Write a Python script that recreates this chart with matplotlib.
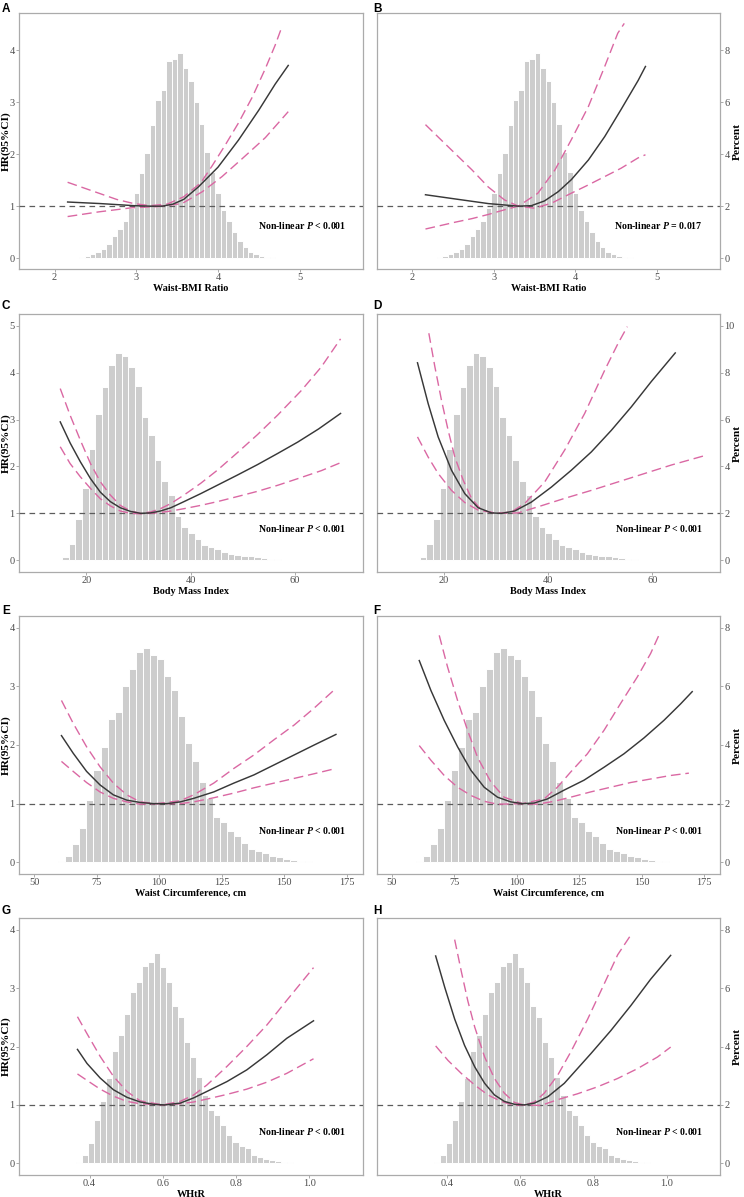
import numpy as np
import matplotlib
matplotlib.use("Agg")
import matplotlib.pyplot as plt

plt.rcParams['font.family'] = ['Liberation Serif', 'DejaVu Serif']
plt.rcParams['mathtext.fontset'] = 'custom'
plt.rcParams['mathtext.bfit'] = 'Liberation Serif:italic:bold'
plt.rcParams['mathtext.rm'] = 'Liberation Serif:bold'

# ---------------------------------------------------------------
#  Histograms (percent of participants per bin)
# ---------------------------------------------------------------
wbr_bin0, wbr_binw = 2.267, 0.0667
wbr_pct = [0.02, 0.04, 0.08, 0.14, 0.22, 0.34, 0.54, 0.86, 1.12, 1.44, 1.92,
           2.50, 3.26, 4.06, 5.12, 6.08, 6.48, 7.60, 7.68, 7.90, 7.34, 6.82,
           6.02, 5.18, 4.10, 3.32, 2.50, 1.86, 1.42, 1.00, 0.66, 0.42, 0.24,
           0.14, 0.08, 0.06, 0.04, 0.02]

bmi_bin0, bmi_binw = 14.7, 1.27
bmi_pct = [0.02, 0.14, 0.70, 1.74, 3.08, 4.76, 6.22, 7.40, 8.32, 8.84, 8.72,
           8.24, 7.44, 6.10, 5.36, 4.26, 3.38, 2.80, 1.88, 1.40, 1.16, 0.92,
           0.66, 0.58, 0.48, 0.34, 0.28, 0.22, 0.18, 0.18, 0.12, 0.08, 0.06,
           0.04, 0.02]

wc_bin0, wc_binw = 61.1, 2.81
wc_pct = [0.06, 0.22, 0.64, 1.18, 2.12, 3.14, 3.94, 4.90, 5.14, 6.00, 6.60,
          7.18, 7.30, 7.06, 6.94, 6.36, 5.88, 4.98, 4.08, 3.44, 2.74, 2.18,
          1.54, 1.36, 1.08, 0.88, 0.66, 0.44, 0.40, 0.30, 0.22, 0.17, 0.12,
          0.08, 0.06, 0.03, 0.02, 0.01]

whtr_bin0, whtr_binw = 0.371, 0.01643
whtr_pct = [0.04, 0.30, 0.70, 1.48, 2.14, 2.92, 3.86, 4.40, 5.10, 5.86, 6.22,
            6.76, 6.88, 7.20, 6.72, 6.22, 5.40, 5.00, 4.16, 3.64, 2.96, 2.34,
            1.82, 1.64, 1.32, 0.96, 0.74, 0.60, 0.52, 0.28, 0.22, 0.16, 0.10,
            0.08, 0.06, 0.04, 0.02, 0.01]

# ---------------------------------------------------------------
#  Restricted cubic spline HR curves (HR, lower / upper 95% CI)
# ---------------------------------------------------------------
# A: waist-BMI ratio, model 1
a_x = [2.16, 2.56, 2.97, 3.17, 3.32, 3.45, 3.58, 3.76, 4.0, 4.25, 4.5, 4.7, 4.86]
a_hr = [1.08, 1.05, 1.01, 1.0, 1.0, 1.04, 1.13, 1.37, 1.75, 2.27, 2.85, 3.35, 3.71]
a_up_x = [2.16, 2.36, 2.56, 2.76, 2.97, 3.17, 3.38, 3.58, 3.79, 3.93, 4.09,
          4.25, 4.42, 4.58, 4.70, 4.77]
a_up = [1.46, 1.35, 1.24, 1.13, 1.05, 1.01, 1.04, 1.18, 1.45, 1.78, 2.18,
        2.60, 3.10, 3.65, 4.10, 4.40]
a_lo_x = [2.16, 2.54, 2.95, 3.25, 3.56, 3.81, 4.05, 4.30, 4.58, 4.86]
a_lo = [0.80, 0.89, 0.97, 0.99, 1.05, 1.28, 1.57, 1.92, 2.32, 2.82]

# B: waist-BMI ratio, model 2
b_x = [2.16, 2.52, 2.93, 3.30, 3.46, 3.62, 3.79, 3.95, 4.16, 4.36, 4.56, 4.77, 4.86]
b_hr = [1.22, 1.14, 1.05, 1.0, 1.01, 1.1, 1.28, 1.51, 1.89, 2.34, 2.86, 3.42, 3.69]
b_up_x = [2.16, 2.31, 2.52, 2.73, 2.93, 3.13, 3.30, 3.54, 3.75, 3.95, 4.16,
          4.36, 4.52, 4.60]
b_up = [2.57, 2.34, 2.02, 1.70, 1.37, 1.12, 1.0, 1.25, 1.70, 2.28, 2.92,
        3.69, 4.33, 4.52]
b_lo_x = [2.16, 2.52, 2.73, 2.93, 3.13, 3.30, 3.50, 3.71, 3.95, 4.16, 4.36,
          4.56, 4.77, 4.86]
b_lo = [0.56, 0.69, 0.76, 0.84, 0.93, 1.0, 0.96, 1.06, 1.25, 1.41, 1.57,
        1.73, 1.93, 1.99]

# C: body mass index, model 1
c_x = [15.0, 16.9, 18.85, 20.8, 22.7, 24.6, 26.5, 28.5, 30.4, 32.3, 34.2,
       36.2, 38.7, 41.9, 45.1, 49.0, 52.8, 56.7, 60.5, 64.5, 68.7]
c_hr = [2.95, 2.5, 2.1, 1.74, 1.45, 1.25, 1.12, 1.04, 1.0, 1.01, 1.05,
        1.12, 1.25, 1.42, 1.6, 1.82, 2.04, 2.28, 2.52, 2.8, 3.13]
c_up_x = [15.0, 16.9, 18.85, 20.8, 22.7, 24.6, 26.5, 28.5, 30.4, 32.3, 34.2,
          36.2, 38.7, 41.9, 45.1, 49.0, 52.8, 56.7, 61.2, 65.0, 68.7]
c_up = [3.66, 3.09, 2.56, 2.06, 1.67, 1.39, 1.17, 1.05, 1.0, 1.03, 1.10,
        1.21, 1.39, 1.64, 1.92, 2.3, 2.68, 3.1, 3.62, 4.12, 4.72]
c_lo_x = [15.0, 16.9, 18.85, 20.8, 22.7, 24.6, 26.5, 28.5, 30.4, 32.3, 34.2,
          36.2, 38.7, 41.9, 45.1, 49.0, 52.8, 56.7, 60.5, 65.0, 68.7]
c_lo = [2.42, 2.06, 1.78, 1.53, 1.31, 1.16, 1.05, 1.0, 0.99, 1.0, 1.02,
        1.05, 1.1, 1.17, 1.25, 1.36, 1.47, 1.6, 1.74, 1.91, 2.08]

# D: body mass index, model 2
d_x = [14.88, 16.93, 18.85, 21.41, 23.97, 26.53, 29.09, 31.0, 33.56, 36.76,
       40.6, 44.44, 48.28, 52.12, 55.96, 59.8, 64.4]
d_hr = [4.21, 3.34, 2.63, 1.92, 1.42, 1.12, 1.01, 1.0, 1.05, 1.24,
        1.56, 1.92, 2.31, 2.77, 3.27, 3.81, 4.42]
d_up_x = [17.06, 18.21, 19.49, 20.77, 22.05, 23.65, 25.25, 27.17, 30.04,
          32.92, 35.48, 39.32, 43.16, 47.0, 50.84, 53.4, 55.19]
d_up = [4.84, 4.13, 3.41, 2.77, 2.2, 1.71, 1.32, 1.07, 1.0,
        1.03, 1.21, 1.67, 2.35, 3.13, 4.05, 4.62, 4.98]
d_lo_x = [14.88, 16.93, 18.85, 21.41, 23.97, 26.53, 30.04, 34.2, 38.04,
          43.16, 48.28, 53.4, 58.52, 63.64, 70.35]
d_lo = [2.63, 2.2, 1.85, 1.49, 1.23, 1.07, 1.0, 1.01, 1.14,
        1.32, 1.49, 1.67, 1.85, 2.03, 2.24]

# E: waist circumference, model 1
e_x = [60.96, 65.64, 70.99, 76.34, 81.68, 87.03, 92.38, 97.73, 103.07, 108.42,
       113.77, 121.79, 129.81, 137.83, 145.86, 153.88, 161.9, 170.59]
e_hr = [2.16, 1.86, 1.55, 1.32, 1.15, 1.06, 1.02, 1.0, 1.0, 1.03,
        1.09, 1.2, 1.35, 1.49, 1.66, 1.83, 2.0, 2.18]
e_up_x = [60.96, 65.64, 70.99, 76.34, 81.68, 87.03, 92.38, 99.06, 108.42,
          113.77, 121.79, 129.81, 137.83, 145.86, 153.88, 161.9, 169.92]
e_up = [2.76, 2.37, 1.97, 1.63, 1.35, 1.15, 1.03, 1.0, 1.05,
        1.15, 1.35, 1.6, 1.83, 2.09, 2.34, 2.63, 2.94]
e_lo_x = [60.96, 65.64, 70.99, 76.34, 81.68, 87.03, 92.38, 100.4, 108.42,
          113.77, 121.79, 129.81, 137.83, 145.86, 153.88, 161.9, 170.59]
e_lo = [1.72, 1.55, 1.36, 1.2, 1.09, 1.03, 0.99, 1.0, 1.0,
        1.03, 1.1, 1.18, 1.27, 1.35, 1.43, 1.51, 1.6]

# F: waist circumference, model 2
f_x = [60.93, 65.6, 70.93, 76.27, 81.6, 86.93, 92.27, 97.6, 102.27, 106.93,
       112.27, 118.93, 126.93, 134.93, 142.93, 150.93, 158.93, 165.6, 170.27]
f_hr = [3.44, 2.93, 2.42, 1.97, 1.57, 1.28, 1.11, 1.03, 1.0, 1.01,
        1.08, 1.23, 1.4, 1.62, 1.85, 2.12, 2.42, 2.70, 2.91]
f_up_x = [68.93, 72.27, 76.27, 80.27, 84.27, 89.6, 94.93, 102.27, 110.93,
          116.27, 121.6, 128.27, 134.93, 141.6, 148.27, 153.6, 157.33]
f_up = [3.87, 3.33, 2.76, 2.25, 1.79, 1.37, 1.11, 1.0, 1.08,
        1.28, 1.54, 1.85, 2.25, 2.71, 3.16, 3.56, 3.91]
f_lo_x = [60.93, 65.6, 70.93, 76.27, 81.6, 86.93, 92.27, 102.27, 108.27,
          114.93, 121.6, 129.6, 137.6, 145.6, 153.6, 161.6, 168.93]
f_lo = [1.99, 1.74, 1.48, 1.28, 1.14, 1.04, 0.99, 1.0, 0.99,
        1.04, 1.11, 1.2, 1.28, 1.36, 1.42, 1.48, 1.52]

# G: WHtR, model 1
g_x = [0.367, 0.393, 0.429, 0.465, 0.502, 0.538, 0.575, 0.605, 0.647, 0.684,
       0.72, 0.775, 0.829, 0.884, 0.938, 1.011]
g_hr = [1.95, 1.71, 1.46, 1.26, 1.13, 1.05, 1.01, 1.0, 1.03, 1.12,
        1.23, 1.4, 1.6, 1.86, 2.14, 2.44]
g_up_x = [0.367, 0.393, 0.429, 0.465, 0.502, 0.538, 0.600, 0.647, 0.684,
          0.72, 0.775, 0.829, 0.884, 0.938, 1.011]
g_up = [2.51, 2.22, 1.83, 1.49, 1.23, 1.07, 1.0, 1.06, 1.17,
        1.34, 1.66, 2.0, 2.37, 2.79, 3.35]
g_lo_x = [0.367, 0.393, 0.429, 0.465, 0.502, 0.538, 0.600, 0.647, 0.684,
          0.72, 0.775, 0.829, 0.884, 0.938, 1.011]
g_lo = [1.53, 1.42, 1.27, 1.15, 1.06, 1.02, 1.0, 1.02, 1.05,
        1.1, 1.18, 1.27, 1.39, 1.54, 1.79]

# H: WHtR, model 2
h_x = [0.368, 0.393, 0.42, 0.447, 0.475, 0.502, 0.529, 0.556, 0.584, 0.611,
       0.638, 0.675, 0.72, 0.793, 0.847, 0.902, 0.956, 1.011]
h_hr = [3.55, 3.01, 2.47, 2.02, 1.65, 1.37, 1.17, 1.06, 1.01, 1.0,
        1.03, 1.14, 1.37, 1.88, 2.27, 2.7, 3.15, 3.56]
h_up_x = [0.42, 0.438, 0.456, 0.475, 0.502, 0.529, 0.556, 0.584, 0.611,
          0.638, 0.665, 0.702, 0.738, 0.784, 0.829, 0.866, 0.9]
h_up = [3.83, 3.29, 2.78, 2.33, 1.82, 1.45, 1.2, 1.04, 1.0,
        1.05, 1.2, 1.51, 1.91, 2.47, 3.07, 3.57, 3.89]
h_lo_x = [0.368, 0.402, 0.438, 0.475, 0.511, 0.547, 0.584, 0.611, 0.656,
          0.702, 0.756, 0.811, 0.865, 0.92, 0.975, 1.011]
h_lo = [2.01, 1.76, 1.54, 1.34, 1.17, 1.06, 0.99, 1.0, 0.99,
        1.09, 1.19, 1.31, 1.45, 1.62, 1.82, 1.99]

# ---------------------------------------------------------------
#  Estilo
# ---------------------------------------------------------------
W, H = 744, 1197
BAR = '#cdcdcd'
CI = '#da68a3'
LINE = '#383838'
REF = '#5c5c5c'
FRAME = '#ababab'
TICK = '#4d4d4d'

fig = plt.figure(figsize=(W / 100, H / 100), dpi=100)


def rect(x0, y0, x1, y1):
    return [x0 / W, 1 - y1 / H, (x1 - x0) / W, (y1 - y0) / H]


def panel(box, side, hist, curves, xlim, hr_lim, xticks, xticklabels,
          hr_ticks, xlabel, note):
    bin0, binw, pct = hist
    ax = fig.add_axes(box)
    ax2 = ax.twinx()

    centers = bin0 + binw * np.arange(len(pct))
    ax.bar(centers, pct, width=binw, color=BAR, edgecolor='white',
           linewidth=0.7, zorder=1)
    ax.set_xlim(*xlim)
    ax.set_ylim(2 * hr_lim[0], 2 * hr_lim[1])
    ax2.set_ylim(*hr_lim)

    (x, hr), (xu, up), (xl, lo) = curves
    ax2.axhline(1, color=REF, lw=0.9, ls=(0, (4.5, 3.5)))
    ax2.plot(xu, up, color=CI, lw=1.0, ls=(0, (7, 3.5)))
    ax2.plot(xl, lo, color=CI, lw=1.0, ls=(0, (7, 3.5)))
    ax2.plot(x, hr, color=LINE, lw=1.05)

    ax.set_xticks(xticks)
    ax.set_xticklabels(xticklabels)
    ax.set_xlabel(xlabel, fontsize=7.4, fontweight='bold', labelpad=1)

    for s in ax.spines.values():
        s.set_color(FRAME)
        s.set_linewidth(0.9)
    for s in ax2.spines.values():
        s.set_visible(False)

    tick_kw = dict(colors=FRAME, labelcolor=TICK, labelsize=7.5,
                   length=2.2, width=0.7, pad=1)
    ax.tick_params(axis='x', **tick_kw)

    if side == 'left':
        ax.set_yticks([])
        ax2.set_yticks(hr_ticks)
        ax2.yaxis.tick_left()
        ax2.tick_params(axis='y', **tick_kw)
        ax2.set_ylabel('HR(95%CI)', fontsize=8.2, fontweight='bold')
        ax2.yaxis.set_label_position('left')
        ax2.yaxis.set_label_coords(-0.025, 0.5)
    else:
        ax2.set_yticks([])
        ax.yaxis.tick_right()
        ax.set_yticks([2 * t for t in hr_ticks])
        ax.set_yticklabels([f'{2 * t:g}' for t in hr_ticks])
        ax.tick_params(axis='y', **tick_kw)
        ax.set_ylabel('Percent', fontsize=8.2, fontweight='bold')
        ax.yaxis.set_label_position('right')
        ax.yaxis.set_label_coords(1.036, 0.5)

    ax2.text(0.95, 0.17, note, transform=ax2.transAxes, ha='right',
             va='center', fontsize=7.1, fontweight='bold')
    return ax


rows = [(13, 269), (314, 572), (616, 874), (918, 1175)]
letter_top = [3, 300, 605, 905]
cols = [(19, 363, 'left'), (377, 720, 'right')]

row_cfg = [
    dict(hist=(wbr_bin0, wbr_binw, wbr_pct), xlim=(1.565, 5.775),
         hr_lim=(-0.21, 4.72), xticks=[2, 3, 4, 5],
         xticklabels=['2', '3', '4', '5'], hr_ticks=[0, 1, 2, 3, 4],
         xlabel='Waist-BMI Ratio'),
    dict(hist=(bmi_bin0, bmi_binw, bmi_pct), xlim=(7.1, 73.0),
         hr_lim=(-0.25, 5.25), xticks=[20, 40, 60],
         xticklabels=['20', '40', '60'], hr_ticks=[0, 1, 2, 3, 4, 5],
         xlabel='Body Mass Index'),
    dict(hist=(wc_bin0, wc_binw, wc_pct), xlim=(44.0, 181.4),
         hr_lim=(-0.2, 4.2), xticks=[50, 75, 100, 125, 150, 175],
         xticklabels=['50', '75', '100', '125', '150', '175'],
         hr_ticks=[0, 1, 2, 3, 4], xlabel='Waist Circumference, cm'),
    dict(hist=(whtr_bin0, whtr_binw, whtr_pct), xlim=(0.2075, 1.146),
         hr_lim=(-0.2, 4.2), xticks=[0.4, 0.6, 0.8, 1.0],
         xticklabels=['0.4', '0.6', '0.8', '1.0'],
         hr_ticks=[0, 1, 2, 3, 4], xlabel='WHtR'),
]

curves = [
    [((a_x, a_hr), (a_up_x, a_up), (a_lo_x, a_lo)),
     ((b_x, b_hr), (b_up_x, b_up), (b_lo_x, b_lo))],
    [((c_x, c_hr), (c_up_x, c_up), (c_lo_x, c_lo)),
     ((d_x, d_hr), (d_up_x, d_up), (d_lo_x, d_lo))],
    [((e_x, e_hr), (e_up_x, e_up), (e_lo_x, e_lo)),
     ((f_x, f_hr), (f_up_x, f_up), (f_lo_x, f_lo))],
    [((g_x, g_hr), (g_up_x, g_up), (g_lo_x, g_lo)),
     ((h_x, h_hr), (h_up_x, h_up), (h_lo_x, h_lo))],
]

notes = [
    [r'Non-linear $\mathbfit{P}$ < 0.001', r'Non-linear $\mathbfit{P}$ = 0.017'],
    [r'Non-linear $\mathbfit{P}$ < 0.001', r'Non-linear $\mathbfit{P}$ < 0.001'],
    [r'Non-linear $\mathbfit{P}$ < 0.001', r'Non-linear $\mathbfit{P}$ < 0.001'],
    [r'Non-linear $\mathbfit{P}$ < 0.001', r'Non-linear $\mathbfit{P}$ < 0.001'],
]

letters = ['AB', 'CD', 'EF', 'GH']

for r, (y0, y1) in enumerate(rows):
    for c, (x0, x1, side) in enumerate(cols):
        panel(rect(x0, y0, x1, y1), side, curves=curves[r][c],
              note=notes[r][c], **row_cfg[r])
        fig.text((2 if c == 0 else 373) / W, 1 - letter_top[r] / H,
                 letters[r][c], ha='left', va='top', fontsize=8.5,
                 fontweight='bold', family='Liberation Sans')

fig.savefig('out.png', dpi=100)
